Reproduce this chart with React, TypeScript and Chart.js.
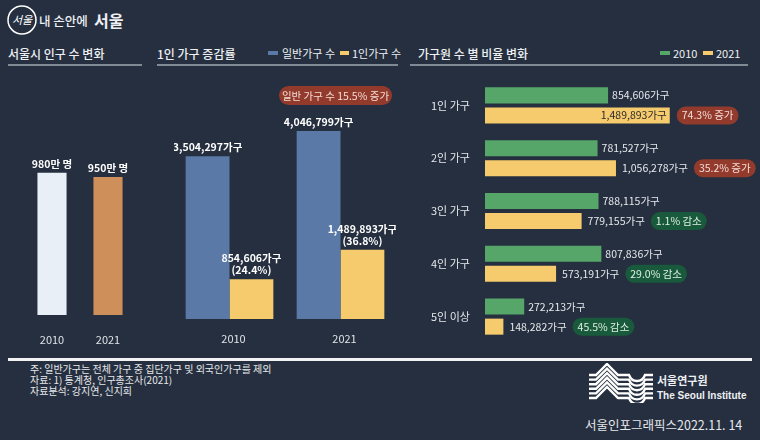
import React, { useEffect, useRef } from "react";
import { Chart, registerables } from "chart.js";
Chart.register(...registerables);

// ---- data ----
const popYears = ["2010", "2021"];
const popValues = [980, 950];
const popUnit = "만 명";

const hhYears = ["2010", "2021"];
const generalHH = [3504297, 4046799];
const singleHH = [854606, 1489893];
const singleShare = ["(24.4%)", "(36.8%)"];
const generalNote = "일반 가구 수 15.5% 증가";

const sizeCats = ["1인 가구", "2인 가구", "3인 가구", "4인 가구", "5인 이상"];
const size2010 = [854606, 781527, 788115, 807836, 272213];
const size2021 = [1489893, 1056278, 779155, 573191, 148282];
const sizeChange = ["74.3% 증가", "35.2% 증가", "1.1% 감소", "29.0% 감소", "45.5% 감소"];

const footnotes = [
  "주: 일반가구는 전체 가구 중 집단가구 및 외국인가구를 제외",
  "자료: 1) 통계청, 인구총조사(2021)",
  "자료분석: 강지연, 신지희",
];

// ---- styles ----
const BG = "#252f3f";
const FONT = '"Noto Sans CJK KR", "Noto Sans", sans-serif';
const TXT = "#eef0f3";
const C_POP = ["#e9eff7", "#cf8f5b"];
const C_BLUE = "#5a79a6";
const C_YEL = "#f6cb6d";
const C_GREEN = "#56a66a";
const PILL_RED = "#923b2d";
const PILL_GREEN = "#1a5a3c";

const fmt = (v: number) => v.toLocaleString("en-US");

function pill(ctx: CanvasRenderingContext2D, x: number, y: number, w: number, h: number, color: string) {
  const r = h / 2;
  ctx.beginPath();
  ctx.moveTo(x + r, y - r);
  ctx.lineTo(x + w - r, y - r);
  ctx.arc(x + w - r, y, r, -Math.PI / 2, Math.PI / 2);
  ctx.lineTo(x + r, y + r);
  ctx.arc(x + r, y, r, Math.PI / 2, (3 * Math.PI) / 2);
  ctx.closePath();
  ctx.fillStyle = color;
  ctx.fill();
}

const popConfig = (): any => ({
  type: "bar",
  data: {
    labels: popYears,
    datasets: [
      { data: popValues, backgroundColor: C_POP, borderWidth: 0, barPercentage: 0.52, categoryPercentage: 1 },
    ],
  },
  options: {
    responsive: false,
    animation: false,
    layout: { padding: { bottom: 40 } },
    plugins: { legend: { display: false }, tooltip: { enabled: false } },
    scales: { x: { display: false }, y: { display: false, min: 0, max: 1550 } },
  },
  plugins: [
    {
      id: "popLabels",
      afterDatasetsDraw(chart: any) {
        const ctx = chart.ctx;
        ctx.save();
        ctx.textAlign = "center";
        ctx.textBaseline = "middle";
        const meta = chart.getDatasetMeta(0);
        meta.data.forEach((b: any, i: number) => {
          ctx.font = `bold 10.5px ${FONT}`;
          ctx.fillStyle = "#ffffff";
          ctx.fillText(popValues[i] + popUnit, b.x, b.y - 9);
          ctx.font = `11px ${FONT}`;
          ctx.fillStyle = "#dfe3e8";
          ctx.fillText(popYears[i], b.x, chart.chartArea.bottom + 25);
        });
        ctx.restore();
      },
    },
  ],
});

const hhConfig = (): any => ({
  type: "bar",
  data: {
    labels: hhYears,
    datasets: [
      { data: generalHH, backgroundColor: C_BLUE, borderWidth: 0, barPercentage: 1, categoryPercentage: 0.79 },
      { data: singleHH, backgroundColor: C_YEL, borderWidth: 0, barPercentage: 1, categoryPercentage: 0.79 },
    ],
  },
  options: {
    responsive: false,
    animation: false,
    layout: { padding: { bottom: 41 } },
    plugins: { legend: { display: false }, tooltip: { enabled: false } },
    scales: { x: { display: false }, y: { display: false, min: 0, max: 5250000 } },
  },
  plugins: [
    {
      id: "hhLabels",
      afterDatasetsDraw(chart: any) {
        const ctx = chart.ctx;
        ctx.save();
        ctx.textAlign = "center";
        ctx.textBaseline = "middle";
        ctx.fillStyle = "#ffffff";
        ctx.font = `bold 10.5px ${FONT}`;
        const m0 = chart.getDatasetMeta(0);
        const m1 = chart.getDatasetMeta(1);
        m0.data.forEach((b: any, i: number) => ctx.fillText(fmt(generalHH[i]) + "가구", b.x, b.y - 9));
        m1.data.forEach((b: any, i: number) => {
          ctx.fillText(fmt(singleHH[i]) + "가구", b.x, b.y - 21);
          ctx.fillText(singleShare[i], b.x, b.y - 9);
        });
        ctx.font = `11px ${FONT}`;
        ctx.fillStyle = "#dfe3e8";
        hhYears.forEach((y, i) => {
          const x = (m0.data[i].x + m1.data[i].x) / 2 + 4;
          ctx.fillText(y, x, chart.chartArea.bottom + 20);
        });
        ctx.restore();
      },
    },
  ],
});

const sizeConfig = (): any => ({
  type: "bar",
  data: {
    labels: sizeCats,
    datasets: [
      { data: size2010, xAxisID: "xG", backgroundColor: C_GREEN, borderWidth: 0, barPercentage: 0.8, categoryPercentage: 0.76 },
      { data: size2021, xAxisID: "xY", backgroundColor: C_YEL, borderWidth: 0, barPercentage: 0.8, categoryPercentage: 0.76 },
    ],
  },
  options: {
    indexAxis: "y",
    responsive: false,
    animation: false,
    layout: { padding: { left: 75, right: 12 } },
    plugins: { legend: { display: false }, tooltip: { enabled: false } },
    scales: {
      y: { display: false },
      xG: { axis: "x", type: "linear", position: "bottom", display: false, min: 0, max: 1826000 },
      xY: { axis: "x", type: "linear", position: "bottom", display: false, min: 0, max: 2121000 },
    },
  },
  plugins: [
    {
      id: "sizeLabels",
      afterDatasetsDraw(chart: any) {
        const ctx = chart.ctx;
        const area = chart.chartArea;
        ctx.save();
        ctx.textBaseline = "middle";
        const m0 = chart.getDatasetMeta(0);
        const m1 = chart.getDatasetMeta(1);
        sizeCats.forEach((cat, i) => {
          const g = m0.data[i];
          const y = m1.data[i];
          ctx.font = `11px ${FONT}`;
          ctx.textAlign = "left";
          ctx.fillStyle = "#e6e8eb";
          ctx.fillText(cat, area.left - 54, (g.y + y.y) / 2);
          ctx.font = `10.5px ${FONT}`;
          // 2010 label
          ctx.fillText(fmt(size2010[i]) + "가구", g.x + 4, g.y);
          // 2021 label
          const lab = fmt(size2021[i]) + "가구";
          let end: number;
          if (y.x - area.left > 150) {
            ctx.textAlign = "right";
            ctx.fillStyle = "#2a2a2a";
            ctx.fillText(lab, y.x - 3, y.y);
            end = y.x + 1;
          } else {
            ctx.fillText(lab, y.x + 6, y.y);
            end = y.x + 6 + ctx.measureText(lab).width;
          }
          // change pill
          const up = size2021[i] > size2010[i];
          ctx.font = `10.5px ${FONT}`;
          const tw = ctx.measureText(sizeChange[i]).width;
          const px = end + 6;
          pill(ctx, px, y.y, tw + 10, 18, up ? PILL_RED : PILL_GREEN);
          ctx.textAlign = "left";
          ctx.fillStyle = up ? "#f5dcd6" : "#dcefe3";
          ctx.fillText(sizeChange[i], px + 5, y.y);
        });
        ctx.restore();
      },
    },
  ],
});

function ChartCanvas({ left, top, width, height, config }: any) {
  const ref = useRef<HTMLCanvasElement>(null);
  useEffect(() => {
    const chart = new Chart(ref.current as HTMLCanvasElement, config());
    return () => chart.destroy();
  }, []);
  return (
    <canvas
      ref={ref}
      width={width}
      height={height}
      style={{ position: "absolute", left, top, width, height }}
    />
  );
}

function Txt({ x, y, size = 11, weight = 400, color = TXT, children, family = FONT }: any) {
  const lh = Math.round(size * 1.4);
  return (
    <div
      style={{
        position: "absolute",
        left: x,
        top: y - lh / 2,
        fontSize: size,
        lineHeight: `${lh}px`,
        fontWeight: weight,
        color,
        whiteSpace: "nowrap",
        fontFamily: family,
      }}
    >
      {children}
    </div>
  );
}

function Rect({ x, y, w, h, color }: any) {
  return <div style={{ position: "absolute", left: x, top: y, width: w, height: h, background: color }} />;
}

function WaveLogo() {
  const paths: string[] = [];
  for (let i = 0; i < 6; i++) {
    const d = i * 4.6;
    const py = 1 + d;
    const H = 12 + d;
    paths.push(
      `M0 ${H} L7 ${H} L18 ${py} L29 ${H} L40 ${H} C43 ${H + 8} 53 ${H + 8} 56 ${H} L64 ${H}`
    );
  }
  return (
    <svg width={64} height={40} style={{ position: "absolute", left: 589, top: 363 }}>
      {paths.map((p, i) => (
        <path key={i} d={p} fill="none" stroke="#ffffff" strokeWidth={2.4} />
      ))}
    </svg>
  );
}

export default function App() {
  return (
    <div
      style={{
        position: "fixed",
        left: 0,
        top: 0,
        width: 760,
        height: 440,
        background: BG,
        overflow: "hidden",
        fontFamily: FONT,
        color: TXT,
      }}
    >
      {/* header */}
      <svg width={32} height={32} style={{ position: "absolute", left: 6, top: 4 }}>
        <circle cx={16} cy={16} r={14} fill="none" stroke="#ffffff" strokeWidth={1.5} />
        <text x={16} y={20} textAnchor="middle" fontSize={11} fontStyle="italic" fill="#ffffff" fontFamily={FONT}>
          서울
        </text>
      </svg>
      <Txt x={39} y={21} size={12.5} weight={500}>내 손안에</Txt>
      <Txt x={94} y={20} size={16} weight={700}>서울</Txt>

      {/* section titles */}
      <Txt x={8} y={53} size={12} weight={500}>서울시 인구 수 변화</Txt>
      <Txt x={157} y={53} size={12} weight={500}>1인 가구 증감률</Txt>
      <Txt x={418} y={53} size={12} weight={500}>가구원 수 별 비율 변화</Txt>
      <Rect x={8} y={64} w={134} h={2} color="#7f8a95" />
      <Rect x={157} y={64} w={241} h={2} color="#7f8a95" />
      <Rect x={410} y={64} w={338} h={2} color="#7f8a95" />

      {/* legends */}
      <Rect x={268} y={51} w={10} h={4} color={C_BLUE} />
      <Txt x={282} y={53} size={11}>일반가구 수</Txt>
      <Rect x={340} y={51} w={9} h={4} color={C_YEL} />
      <Txt x={352} y={53} size={11}>1인가구 수</Txt>
      <Rect x={660} y={51} w={10} h={4} color={C_GREEN} />
      <Txt x={673} y={53} size={11}>2010</Txt>
      <Rect x={703} y={51} w={10} h={4} color={C_YEL} />
      <Txt x={716} y={53} size={11}>2021</Txt>

      {/* charts */}
      <ChartCanvas left={24} top={90} width={112} height={265} config={popConfig} />
      <ChartCanvas left={174} top={75} width={222} height={285} config={hhConfig} />
      <ChartCanvas left={410} top={79} width={350} height={264} config={sizeConfig} />

      {/* annotation pill chart 2 */}
      <div
        style={{
          position: "absolute",
          left: 279,
          top: 86,
          width: 113,
          height: 19,
          borderRadius: 10,
          background: PILL_RED,
          color: "#f5dcd6",
          fontSize: 10.5,
          lineHeight: "19px",
          textAlign: "center",
          whiteSpace: "nowrap",
        }}
      >
        {generalNote}
      </div>

      {/* bottom */}
      <Rect x={8} y={358} w={744} h={3} color="#f2f2f2" />
      {footnotes.map((f, i) => (
        <Txt key={i} x={30} y={369 + i * 11} size={10} color="#e6e8eb">
          {f}
        </Txt>
      ))}
      <WaveLogo />
      <Txt x={657} y={380} size={11} weight={700}>서울연구원</Txt>
      <Txt x={657} y={396} size={10} weight={700} family='"Liberation Sans", Arial, sans-serif'>
        The Seoul Institute
      </Txt>
      <Txt x={585} y={425} size={12.5} color="#e6e8eb">서울인포그래픽스2022.11. 14</Txt>
    </div>
  );
}
